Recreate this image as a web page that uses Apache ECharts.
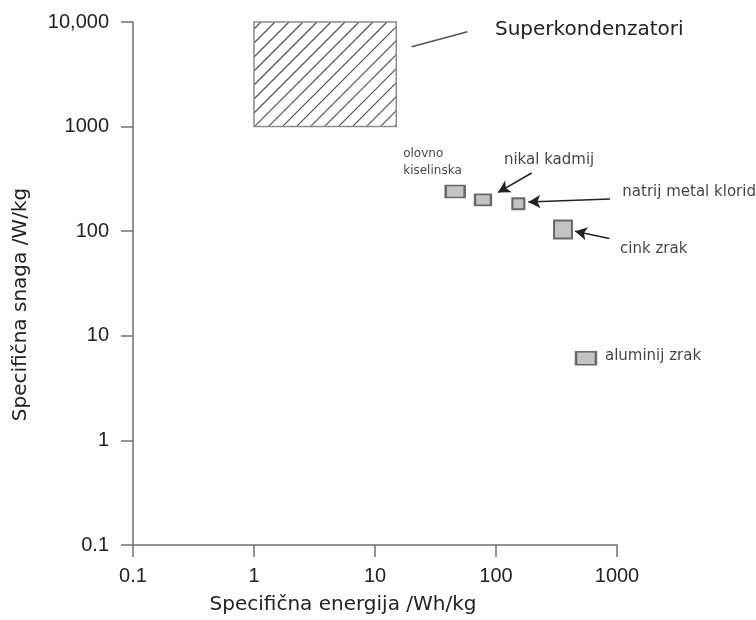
<!DOCTYPE html>
<html>
<head>
<meta charset="utf-8">
<script src="https://cdn.jsdelivr.net/npm/echarts@6/dist/echarts.min.js"></script>
<style>
  html, body { margin: 0; padding: 0; background: #fff; }
  #chart { width: 756px; height: 620px; }
</style>
</head>
<body>
<div id="chart"></div>
<script>
  // baterije: specificna energija (Wh/kg) i specificna snaga (W/kg)
  var names = ['olovno\nkiselinska', 'nikal kadmij', 'natrij metal klorid', 'cink zrak', 'aluminij zrak'];
  var energy = [46, 78, 153, 358, 554];
  var power = [240, 199, 183, 104, 6.1];

  // superkondenzatori: [E od, P od, E do, P do]
  var superCap = [1, 1000, 15, 10000];
  var superCapName = 'Superkondenzatori';
  var superCapLabelAt = [98, 8390];

  // strelice (od -> do), u jedinicama osi
  var arrowFrom = [[197, 360], [875, 203], [863, 85]];
  var arrowTo = [[104, 235], [185, 190], [450, 100]];
  var leaderLine = [[20.1, 5810], [58, 8070]];

  var xName = 'Specifična energija /Wh/kg';
  var yName = 'Specifična snaga /W/kg';

  // izgled oznaka
  var symbolSizes = [[19, 12], [16, 11], [12, 11], [18, 18], [20, 13]];
  var labelLayout = [
    { fontSize: 12, lineHeight: 17, offset: [-52, -29] },
    { fontSize: 15, offset: [21, -40] },
    { fontSize: 15, offset: [104, -12] },
    { fontSize: 15, offset: [57, 20] },
    { fontSize: 15, offset: [19, -2] }
  ];

  var axisColor = '#707070';
  var textFont = 'DejaVu Sans';

  function tickFmt(v) {
    if (v >= 10000) return v.toLocaleString('en-US');
    return String(+v.toPrecision(3));
  }

  var points = energy.map(function (e, i) {
    return {
      value: [e, power[i]],
      symbolSize: symbolSizes[i],
      label: {
        show: true,
        position: 'inside',
        align: 'left',
        verticalAlign: 'middle',
        formatter: names[i],
        color: '#111',
        textBorderWidth: 0,
        fontFamily: textFont,
        fontSize: labelLayout[i].fontSize,
        lineHeight: labelLayout[i].lineHeight || 18,
        offset: labelLayout[i].offset
      }
    };
  });

  var lines = arrowFrom.map(function (f, i) {
    return [{ coord: f }, { coord: arrowTo[i] }];
  });
  lines.push([
    { coord: leaderLine[0], symbol: 'none' },
    { coord: leaderLine[1], symbol: 'none', lineStyle: { color: '#555' } }
  ]);

  var chart = echarts.init(document.getElementById('chart'));

  var option = {
    animation: false,
    grid: { left: 133, right: 139, top: 22, bottom: 74 },
    xAxis: {
      type: 'log',
      logBase: 10,
      min: 0.1,
      max: 1000,
      name: xName,
      nameLocation: 'middle',
      nameGap: 50,
      nameTextStyle: { fontFamily: textFont, fontSize: 20, color: '#222', padding: [0, 64, 0, 0] },
      axisLine: { lineStyle: { color: axisColor, width: 1.5 } },
      axisTick: { length: 12, lineStyle: { color: axisColor, width: 1.5 } },
      axisLabel: { fontFamily: 'Liberation Sans', fontSize: 20, color: '#222', margin: 21, formatter: tickFmt },
      splitLine: { show: false }
    },
    yAxis: {
      type: 'log',
      logBase: 10,
      min: 0.1,
      max: 10000,
      name: yName,
      nameLocation: 'middle',
      nameGap: 102,
      nameTextStyle: { fontFamily: textFont, fontSize: 20, color: '#222', padding: [0, 42, 0, 0] },
      axisLine: { lineStyle: { color: axisColor, width: 1.5 } },
      axisTick: { length: 12, lineStyle: { color: axisColor, width: 1.5 } },
      axisLabel: { fontFamily: 'Liberation Sans', fontSize: 20, color: '#222', margin: 24, formatter: tickFmt },
      splitLine: { show: false }
    },
    series: [
      {
        type: 'custom',
        coordinateSystem: 'cartesian2d',
        silent: true,
        clip: false,
        data: [superCap],
        renderItem: function (params, api) {
          var p0 = api.coord([api.value(0), api.value(3)]);
          var p1 = api.coord([api.value(2), api.value(1)]);
          var x0 = p0[0], y0 = p0[1], x1 = p1[0], y1 = p1[1];
          var kids = [{
            type: 'rect',
            shape: { x: x0, y: y0, width: x1 - x0, height: y1 - y0 },
            style: { fill: '#fff' }
          }];
          // srafura "/"
          var step = 14;
          for (var c = x0 + y0 + step / 2; c < x1 + y1; c += step) {
            var xa = Math.max(x0, c - y1), xb = Math.min(x1, c - y0);
            if (xb <= xa) continue;
            kids.push({
              type: 'line',
              shape: { x1: xa, y1: c - xa, x2: xb, y2: c - xb },
              style: { stroke: '#555', lineWidth: 1.2 }
            });
          }
          kids.push({
            type: 'rect',
            shape: { x: x0, y: y0, width: x1 - x0, height: y1 - y0 },
            style: { fill: 'none', stroke: '#8c8c8c', lineWidth: 1.5 }
          });
          var t = api.coord(superCapLabelAt);
          kids.push({
            type: 'text',
            x: t[0],
            y: t[1],
            style: {
              text: superCapName,
              fill: '#222',
              font: '20px "' + textFont + '"',
              align: 'left',
              verticalAlign: 'middle'
            }
          });
          return { type: 'group', children: kids };
        }
      },
      {
        type: 'scatter',
        symbol: 'rect',
        clip: false,
        silent: true,
        itemStyle: { color: '#b4b4b4', borderColor: '#4a4a4a', borderWidth: 2 },
        data: points,
        markLine: {
          silent: true,
          symbol: ['none', 'arrow'],
          symbolSize: [10, 12],
          lineStyle: { color: '#222', width: 1.5, type: 'solid' },
          label: { show: false },
          emphasis: { disabled: true },
          data: lines
        }
      }
    ]
  };

  chart.setOption(option);
</script>
</body>
</html>
